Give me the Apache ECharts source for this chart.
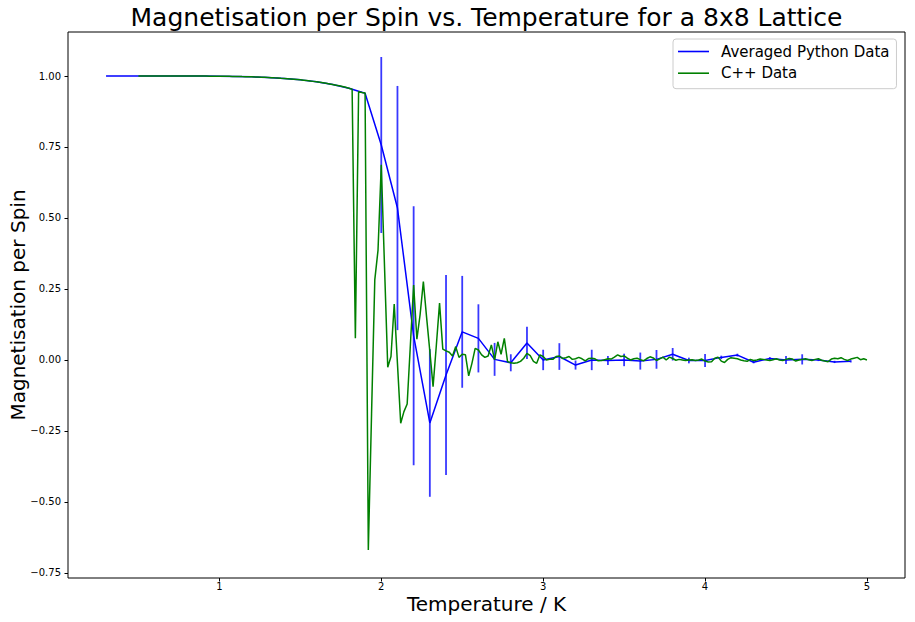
<!DOCTYPE html>
<html>
<head>
<meta charset="utf-8">
<script src="https://cdn.jsdelivr.net/npm/echarts@6/dist/echarts.min.js"></script>
<style>
html,body{margin:0;padding:0;background:#fff;}
#chart{width:915px;height:622px;}
</style>
</head>
<body>
<div id="chart"></div>
<script>
// ---- Data ----
var titleText = 'Magnetisation per Spin vs. Temperature for a 8x8 Lattice';
var xName = 'Temperature / K';
var yName = 'Magnetisation per Spin';
var seriesNames = ['Averaged Python Data', 'C++ Data'];

var xTicks = [1, 2, 3, 4, 5];
var yTicks = [-0.75, -0.5, -0.25, 0, 0.25, 0.5, 0.75, 1.0];

// Averaged Python data: temperatures 0.3 .. 4.9 (step 0.1)
var pyTStart = 0.3, pyTStep = 0.1;
var pyM = [1.0000, 1.0000, 1.0000, 1.0000, 0.9999, 0.9998, 0.9997, 0.9993, 0.9985, 0.9970,
           0.9948, 0.9914, 0.9864, 0.9796, 0.9701, 0.9572, 0.939, 0.757, 0.535, 0.085,
           -0.222, -0.053, 0.099, 0.076, 0.002, -0.010, 0.060, 0.000, 0.012, -0.018,
           0.000, -0.002, 0.000, -0.004, 0.002, 0.020, -0.002, -0.002, 0.009, 0.017,
           -0.008, 0.005, 0.000, 0.002, 0.000, -0.007, -0.005];
var pyErr = [0, 0, 0, 0, 0, 0, 0, 0, 0, 0,
             0, 0, 0, 0, 0, 0, 0, 0.31, 0.43, 0.456,
             0.26, 0.352, 0.197, 0.12, 0.058, 0.03, 0.057, 0.036, 0.047, 0.016,
             0.036, 0.016, 0.022, 0.03, 0.033, 0.022, 0.01, 0.023, 0.006, 0.005,
             0.004, 0.005, 0.014, 0.018, 0.004, 0.004, 0.004];

// C++ data: temperatures 0.5 .. 5.0 (step 0.02)
var cppTStart = 0.5, cppTStep = 0.02;
var cppM = [
  1.0000, 1.0000, 1.0000, 1.0000, 1.0000, 1.0000, 1.0000, 1.0000, 1.0000, 1.0000,
  0.9999, 0.9999, 0.9999, 0.9999, 0.9999, 0.9998, 0.9998, 0.9998, 0.9997, 0.9997,
  0.9997, 0.9996, 0.9995, 0.9995, 0.9994, 0.9993, 0.9991, 0.9990, 0.9989, 0.9987,
  0.9985, 0.9982, 0.9979, 0.9977, 0.9974, 0.9970, 0.9966, 0.9962, 0.9958, 0.9953,
  0.9948, 0.9942, 0.9935, 0.9929, 0.9921, 0.9914, 0.9905, 0.9896, 0.9886, 0.9876,
  0.9864, 0.9852, 0.9839, 0.9826, 0.9811, 0.9796, 0.9779, 0.9761, 0.9742, 0.9722,
  0.9701, 0.9678, 0.9654, 0.9628, 0.9601, 0.9572, 0.9537,
  0.076, 0.945, 0.942, 0.940, -0.669, -0.19, 0.282, 0.387, 0.687, 0.33,
  -0.026, 0.012, 0.197, -0.013, -0.223, -0.182, -0.155, 0.055, 0.264, 0.073,
  0.16, 0.276, 0.15, 0.03, -0.094, 0.05, 0.2, 0.038, 0.032, 0.027,
  0.014, 0.047, 0.009, 0.02, 0.018, -0.056, -0.012, 0.041, 0.035, 0.018,
  0.009, 0.014, 0.053, 0.0, 0.064, 0.02, 0.076, -0.006, -0.01, -0.012,
  -0.01, -0.005, 0.006, 0.023, 0.015, -0.005, -0.012, 0.018, 0.012, 0.0,
  0.002, 0.002, 0.012, 0.014, 0.005, 0.008, 0.012, 0.002, 0.004, 0.009,
  0.004, -0.003, 0.005, 0.006, 0.004, -0.003,
  -0.002, 0.001, 0.004, 0.003, 0.010, 0.018, 0.012, 0.014, 0.006, 0.000,
  0.004, 0.006, 0.001, -0.003, 0.005, 0.011, 0.007, -0.002, 0.004, 0.010,
  0.000, 0.010, 0.005, -0.001, 0.002, 0.000, -0.002, 0.000, 0.001, -0.002,
  0.000, 0.003, -0.004, -0.007, -0.006, 0.006, 0.010, -0.004, -0.009, 0.002,
  0.008, 0.006, 0.004, 0.000, -0.003, -0.005, 0.002, -0.002, 0.000, 0.003,
  0.002, 0.000, -0.002, 0.001, 0.004, 0.000, -0.002, 0.002, 0.005, 0.003,
  -0.004, 0.000, 0.002, 0.004, 0.001, -0.002, 0.002, 0.004, -0.001, -0.004,
  -0.006, 0.003, 0.006, 0.004, 0.008, 0.002, -0.002, 0.003, 0.006, 0.009,
  0.001, 0.004, 0.000
];

// ---- Build series data ----
function r(v){ return Math.round(v*1000)/1000; }
var pyData = pyM.map(function(m, i){ return [r(pyTStart + i*pyTStep), m]; });
var errData = [];
pyM.forEach(function(m, i){
  if (pyErr[i] > 0) errData.push([r(pyTStart + i*pyTStep), m - pyErr[i], m + pyErr[i]]);
});
var cppData = cppM.map(function(m, i){ return [r(cppTStart + i*cppTStep), m]; });

function fmtY(v){
  var s = Math.abs(v).toFixed(2);
  return (v < 0 ? '\u2212' : '') + s;
}

var FONT = 'DejaVu Sans';
var chart = echarts.init(document.getElementById('chart'), null, {renderer: 'svg'});
chart.setOption({
  animation: false,
  backgroundColor: '#ffffff',
  textStyle: {fontFamily: FONT, color: '#000'},
  title: {
    text: titleText,
    left: 486.5,
    top: 5,
    padding: 0,
    textAlign: 'center',
    textStyle: {fontFamily: FONT, fontSize: 25, fontWeight: 'normal', color: '#000'}
  },
  legend: {
    data: [
      {name: seriesNames[0], icon: 'rect', itemStyle: {color: '#0000ff'}},
      {name: seriesNames[1], icon: 'rect', itemStyle: {color: '#008000'}}
    ],
    orient: 'vertical',
    left: 673,
    top: 39,
    padding: [5, 7, 8, 5],
    itemWidth: 31,
    itemHeight: 1.6,
    itemGap: 6.7,
    backgroundColor: '#ffffff',
    borderColor: '#cccccc',
    borderWidth: 1,
    borderRadius: 3,
    selectedMode: false,
    textStyle: {fontFamily: FONT, fontSize: 15, color: '#000', lineHeight: 15, padding: [0, 0, 0, 7]}
  },
  grid: {
    left: 68, right: 10, top: 32, bottom: 44,
    show: true, borderColor: '#000', borderWidth: 1, backgroundColor: 'transparent',
    containLabel: false,
    outerBoundsMode: 'none'
  },
  xAxis: {
    type: 'value',
    min: 0.065, max: 5.235,
    name: xName,
    nameLocation: 'middle',
    nameGap: 16,
    nameMoveOverlap: false,
    nameTextStyle: {fontFamily: FONT, fontSize: 20, color: '#000'},
    axisLine: {show: false, onZero: false},
    splitLine: {show: false},
    axisTick: {show: true, inside: false, length: 3.5, customValues: xTicks, lineStyle: {color: '#000', width: 1}},
    axisLabel: {show: true, margin: 3, customValues: xTicks, fontFamily: FONT, fontSize: 10, color: '#000',
      formatter: function(v){ return String(v); }}
  },
  yAxis: {
    type: 'value',
    min: -0.768, max: 1.155,
    name: yName,
    nameLocation: 'middle',
    nameGap: 40,
    nameMoveOverlap: false,
    nameRotate: 90,
    nameTextStyle: {fontFamily: FONT, fontSize: 20, color: '#000'},
    axisLine: {show: false, onZero: false},
    splitLine: {show: false},
    axisTick: {show: true, inside: false, length: 3.5, customValues: yTicks, lineStyle: {color: '#000', width: 1}},
    axisLabel: {show: true, margin: 7, customValues: yTicks, fontFamily: FONT, fontSize: 10, color: '#000',
      formatter: function(v){ return fmtY(v); }}
  },
  series: [
    {
      name: 'errorbars',
      type: 'custom',
      data: errData,
      encode: {x: 0, y: [1, 2]},
      z: 2,
      renderItem: function(params, api){
        var x = api.value(0);
        var p1 = api.coord([x, api.value(1)]);
        var p2 = api.coord([x, api.value(2)]);
        return {
          type: 'line',
          shape: {x1: p1[0], y1: p1[1], x2: p2[0], y2: p2[1]},
          style: {stroke: 'rgba(0,0,255,0.78)', lineWidth: 1.8}
        };
      }
    },
    {
      name: seriesNames[0],
      type: 'line',
      data: pyData,
      symbol: 'none',
      z: 3,
      color: '#0000ff',
      lineStyle: {color: '#0000ff', width: 1.5}
    },
    {
      name: seriesNames[1],
      type: 'line',
      data: cppData,
      symbol: 'none',
      z: 4,
      color: '#008000',
      lineStyle: {color: '#008000', width: 1.5}
    }
  ]
});
</script>
</body>
</html>
